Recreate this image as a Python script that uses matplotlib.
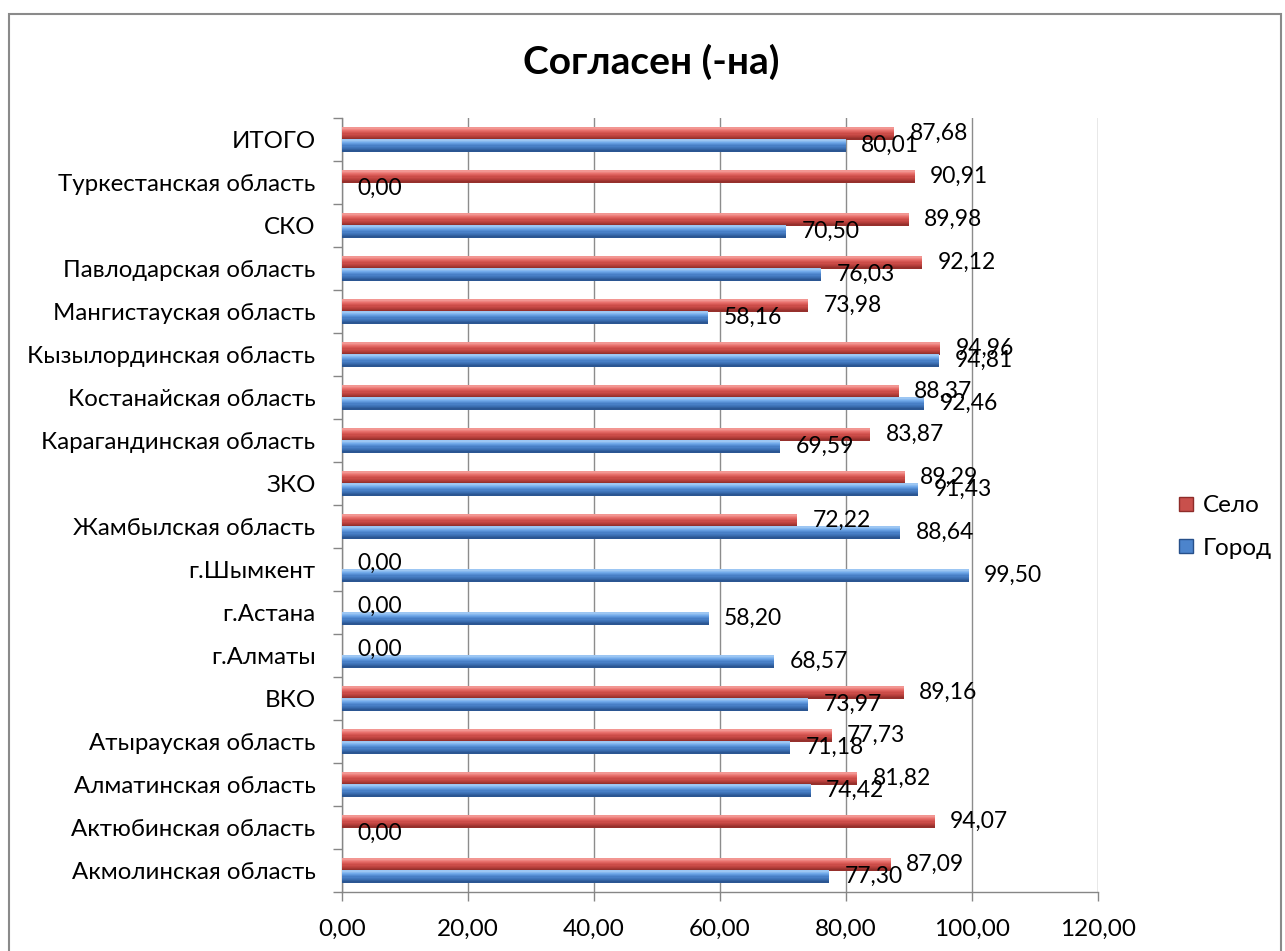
import matplotlib
matplotlib.use("Agg")
import matplotlib.pyplot as plt
from matplotlib.patches import Rectangle
from matplotlib.lines import Line2D
from matplotlib.colors import to_rgb
import numpy as np

plt.rcParams['font.family'] = ['Lato', 'DejaVu Sans']

categories = [
    "Акмолинская область", "Актюбинская область", "Алматинская область",
    "Атырауская область", "ВКО", "г.Алматы", "г.Астана", "г.Шымкент",
    "Жамбылская область", "ЗКО", "Карагандинская область",
    "Костанайская область", "Кызылординская область",
    "Мангистауская область", "Павлодарская область", "СКО",
    "Туркестанская область", "ИТОГО",
]
selo = [87.09, 94.07, 81.82, 77.73, 89.16, 0.00, 0.00, 0.00, 72.22, 89.29,
        83.87, 88.37, 94.96, 73.98, 92.12, 89.98, 90.91, 87.68]
gorod = [77.30, 0.00, 74.42, 71.18, 73.97, 68.57, 58.20, 99.50, 88.64, 91.43,
         69.59, 92.46, 94.81, 58.16, 76.03, 70.50, 0.00, 80.01]
series_names = ["Село", "Город"]
x_ticks = [0, 20, 40, 60, 80, 100, 120]
title = "Согласен (-на)"

W, H = 1285, 951
fig = plt.figure(figsize=(W / 100, H / 100), dpi=100)
ax = fig.add_axes([342 / W, 1 - 892 / H, (1098 - 342) / W, (892 - 118) / H])

# outer chart border
fig.patches.append(Rectangle((9 / W, -0.01), (1281 - 9) / W, 1 - 14 / H + 0.01,
                             transform=fig.transFigure, fill=False,
                             edgecolor="#8a8a8a", linewidth=1.5, zorder=0))

y = np.arange(len(categories))
bh = 0.28
off = 0.14

def bars3d(vals, ycen, stops):
    # vertical gradient: stops from top to bottom
    vals = np.array(vals)
    n = 10
    cols = []
    pos = np.linspace(0, 1, len(stops))
    rgb = np.array([to_rgb(c) for c in stops])
    for k in range(n):
        t = (k + 0.5) / n
        c = [np.interp(t, pos, rgb[:, j]) for j in range(3)]
        cols.append(c)
    sh = bh / n
    for k in range(n):
        yk = ycen + bh / 2 - sh * (k + 0.5)
        ax.barh(yk, vals, height=sh * 1.05, color=cols[k], zorder=3, linewidth=0)

bars3d(selo, y + off, ["#F4A09C", "#E8706C", "#D0504C", "#B53E3A", "#8E2C29"])
bars3d(gorod, y - off, ["#A6CDF5", "#72AAEA", "#4C84CC", "#3A6DB0", "#27508A"])

def fmt(v):
    return f"{v:.2f}".replace(".", ",")

for yi, v in zip(y, selo):
    ax.annotate(fmt(v), xy=(v, yi + off), xytext=(11, 0), textcoords="offset points",
                ha="left", va="center", fontsize=16.5, color="black", zorder=6)
for yi, v in zip(y, gorod):
    ax.annotate(fmt(v), xy=(v, yi - off), xytext=(11, 0), textcoords="offset points",
                ha="left", va="center", fontsize=16.5, color="black", zorder=6)

ax.set_xlim(0, 120)
ax.set_ylim(-0.5, len(categories) - 0.5)
ax.set_xticks(x_ticks)
ax.set_xticklabels([fmt(t) for t in x_ticks], fontsize=17.5)
ax.set_yticks(y)
ax.set_yticklabels(categories, fontsize=17.3)
ax.set_yticks(np.arange(-0.5, len(categories)), minor=True)
ax.tick_params(axis="y", which="major", length=0, pad=19)
ax.tick_params(axis="y", which="minor", length=6.5, color="#868686", width=1)
ax.tick_params(axis="x", which="major", length=6.5, color="#868686", width=1, pad=13)

ax.grid(axis="x", color="#8c8c8c", linewidth=1, zorder=1)
for s in ["top", "right"]:
    ax.spines[s].set_visible(False)
for s in ["left", "bottom"]:
    ax.spines[s].set_color("#868686")
    ax.spines[s].set_linewidth(1)

fig.text(651 / W, 1 - 62 / H, title, ha="center", va="center",
         fontsize=28, fontweight="bold")

handles = [Line2D([], [], linestyle="", marker="s", markersize=10.5,
                  markerfacecolor="#C9504C", markeredgecolor="#8E2C29", markeredgewidth=1),
           Line2D([], [], linestyle="", marker="s", markersize=10.5,
                  markerfacecolor="#4C84CC", markeredgecolor="#27508A", markeredgewidth=1)]
fig.legend(handles, series_names, loc="center left",
           bbox_to_anchor=(1177 / W, 1 - 527 / H), bbox_transform=fig.transFigure,
           frameon=False, fontsize=17.5, handlelength=0.75,
           handletextpad=0.3, labelspacing=0.9, borderpad=0, borderaxespad=0)

fig.savefig("out.png", dpi=100)
